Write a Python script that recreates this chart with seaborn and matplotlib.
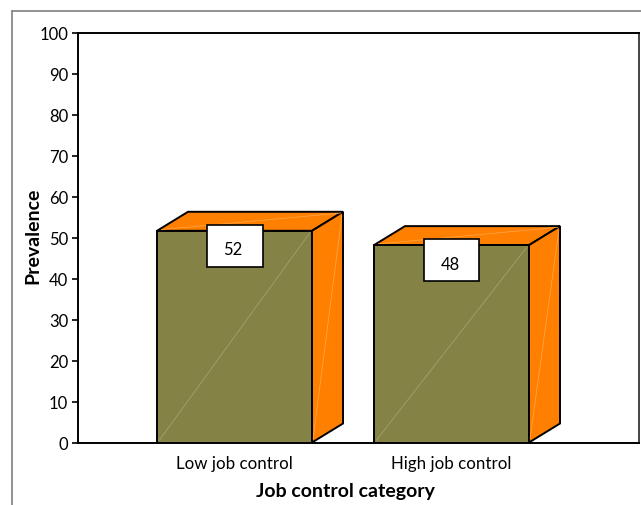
import matplotlib
matplotlib.use('Agg')
import matplotlib.pyplot as plt
from matplotlib.patches import Polygon, Rectangle
import pandas as pd
import seaborn as sns

categories = ['Low job control', 'High job control']
prevalence = [51.7, 48.2]
value_labels = ['52', '48']
y_ticks = list(range(0, 101, 10))

W, H = 641, 506
FRONT = '#848244'
SIDE = '#ff8000'
DEPTH_X = 31   # px
DEPTH_Y = 19   # px

sns.set_theme(style='white')
plt.rcParams['font.family'] = ['Lato', 'DejaVu Sans']

fig = plt.figure(figsize=(W / 100, H / 100), dpi=100)
# outer chart frame, open at the bottom and right like the source
fig.add_artist(plt.Line2D([11.5 / W, 11.5 / W], [0, 1 - 11.5 / H], color='#7f7f7f', lw=1.2))
fig.add_artist(plt.Line2D([11.5 / W, 1], [1 - 11.5 / H, 1 - 11.5 / H], color='#7f7f7f', lw=1.2))

ax = fig.add_axes([78 / W, 1 - 443.5 / H, 561 / W, 409.5 / H])
df = pd.DataFrame({'category': categories, 'prevalence': prevalence})
sns.barplot(data=df, x='category', y='prevalence', color=FRONT, saturation=1,
            width=155 / 217, edgecolor='black', linewidth=1.4, ax=ax, zorder=3)

ax.set_xlim((78 - 234.5) / 217, (639 - 234.5) / 217)
ax.set_ylim(0, 100)
ax.set_yticks(y_ticks)

# px -> data sizes
dx = DEPTH_X / 217
dy = DEPTH_Y * 100 / 409.5

for bar, label in zip(ax.patches, value_labels):
    x0, w, h = bar.get_x(), bar.get_width(), bar.get_height()
    x1 = x0 + w
    top = [(x0, h), (x1, h), (x1 + dx, h + dy), (x0 + dx, h + dy)]
    side = [(x1, 0), (x1 + dx, dy), (x1 + dx, h + dy), (x1, h)]
    ax.add_patch(Polygon(top, closed=True, fc=SIDE, ec='black', lw=1.4, zorder=2, clip_on=False))
    ax.add_patch(Polygon(side, closed=True, fc=SIDE, ec='black', lw=1.4, zorder=2, clip_on=False))
    # faint seams of the 3D faces
    ax.plot([x0 + 0.01, x1 - 0.01], [0.5, h - 0.5], color='#a8a77c', lw=0.5, zorder=4)
    ax.plot([x1 + 0.005, x1 + dx - 0.005], [1, h + dy - 1], color='#ffa850', lw=0.5, zorder=4)
    ax.plot([x0 + 0.02, x1 + dx - 0.01], [h + 0.3, h + dy - 0.3], color='#ffa850', lw=0.5, zorder=2.5)
    # value label box
    cx = x0 + w / 2
    bw, bh = 56 / 217, 42 * 100 / 409.5
    cy = h - 3.75
    ax.add_patch(Rectangle((cx - bw / 2, cy - bh / 2), bw, bh, fc='white', ec='black', lw=1.2, zorder=5))
    ax.text(cx - 0.007, cy - 0.8, label, ha='center', va='center', fontsize=12, color='black', zorder=6)

for s in ['top', 'left', 'bottom']:
    ax.spines[s].set_color('black')
    ax.spines[s].set_linewidth(1.4)
ax.spines['right'].set_color('#444444')
ax.spines['right'].set_linewidth(1.4)

ax.tick_params(axis='y', left=True, length=4, width=1.2, color='black', labelcolor='black', labelsize=12, pad=3)
ax.tick_params(axis='x', bottom=False, labelcolor='black', labelsize=12.2, pad=3)
ax.set_xlabel('Job control category', fontsize=14, fontweight='bold', color='black')
ax.set_ylabel('Prevalence', fontsize=14, fontweight='bold', color='black')
ax.xaxis.set_label_coords(0.476, -0.097)
ax.yaxis.set_label_coords(-0.066, 0.507)

fig.savefig('out.png', dpi=100, facecolor='white')
